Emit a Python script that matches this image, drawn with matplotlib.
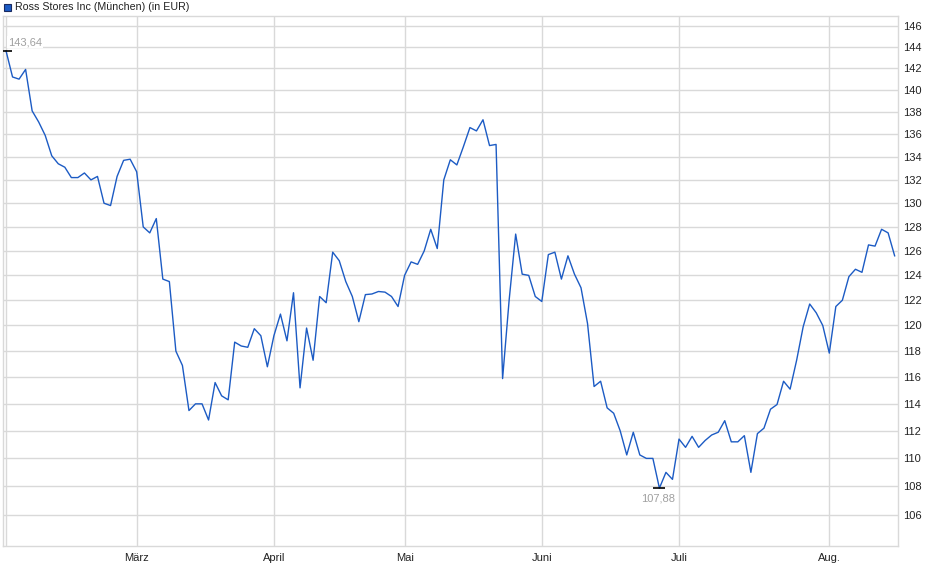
import numpy as np
import matplotlib
matplotlib.use("Agg")
import matplotlib.pyplot as plt
from matplotlib.patches import Rectangle
from matplotlib.ticker import FixedLocator, NullLocator

plt.rcParams['font.family'] = ['Liberation Sans', 'DejaVu Sans']

# Schlusskurse je Handelstag (Index 0 = erster Handelstag im Februar)
prices = [
    143.64, 141.2, 141.0, 141.9, 138.1, 137.1, 135.9, 134.1, 133.4, 133.1,
    132.2, 132.2, 132.6, 132.0, 132.3, 130.0, 129.8, 132.3, 133.7, 133.8,
    132.7, 128.0, 127.5, 128.7, 123.7, 123.5, 118.0, 116.9, 113.5, 114.0,
    114.0, 112.8, 115.6, 114.6, 114.3, 118.7, 118.4, 118.3, 119.75, 119.2,
    116.8, 119.2, 120.9, 118.8, 122.6, 115.2, 119.8, 117.3, 122.3, 121.8,
    125.9, 125.2, 123.5, 122.3, 120.3, 122.45, 122.5, 122.7, 122.65, 122.3,
    121.5, 124.0, 125.1, 124.9, 126.0, 127.8, 126.2, 132.0, 133.75, 133.3,
    134.9, 136.6, 136.3, 137.3, 135.0, 135.1, 115.9, 122.0, 127.4, 124.1,
    124.0, 122.3, 121.9, 125.7, 125.9, 123.7, 125.6, 124.1, 123.0, 120.15,
    115.3, 115.7, 113.7, 113.3, 112.0, 110.25, 111.9, 110.25, 110.0, 110.0,
    107.88, 109.0, 108.5, 111.4, 110.8, 111.6, 110.8, 111.3, 111.7, 111.9,
    112.75, 111.2, 111.2, 111.65, 109.0, 111.8, 112.2, 113.6, 113.95, 115.7,
    115.1, 117.3, 119.9, 121.7, 121.0, 120.0, 117.85, 121.5, 122.0, 123.9,
    124.5, 124.25, 126.5, 126.4, 127.8, 127.5, 125.6,
]

# Monatsanfang als Handelstag-Index
month_pos = [20, 41, 61, 82, 103, 126]
month_labels = ["März", "April", "Mai", "Juni", "Juli", "Aug."]
y_ticks = list(range(106, 147, 2))

x = np.arange(len(prices))
y = np.array(prices)

W, H = 940, 579
fig = plt.figure(figsize=(W / 100, H / 100), dpi=100)
ax = fig.add_axes([3 / W, (H - 546) / H, (898.3 - 3) / W, (546 - 16) / H])

grid_c = '#d9d9d9'
ax.plot(x, y, color='#1c5bc4', lw=1.0, zorder=3)

ax.set_yscale('log')
ax.set_ylim(103.87, 146.95)
ax.set_xlim(-0.46, 136.56)

ax.yaxis.set_major_locator(FixedLocator(y_ticks))
ax.yaxis.set_minor_locator(NullLocator())
ax.set_yticklabels([str(t) for t in y_ticks])
ax.yaxis.tick_right()
ax.tick_params(axis='y', length=0, labelsize=8, labelcolor='#222222', pad=3.5)

ax.set_xticks(month_pos)
ax.set_xticklabels(month_labels)
ax.tick_params(axis='x', length=0, labelsize=8, labelcolor='#222222', pad=5)

ax.grid(True, color=grid_c, lw=1.0, zorder=0)
ax.axvline(0, color=grid_c, lw=1.0, zorder=0)
for s in ax.spines.values():
    s.set_color(grid_c)
    s.set_linewidth(1.0)

# Start- und Tiefstwert markieren
i_min = int(np.argmin(y))
for i, off, va in [(0, (1.5, 2.5), 'bottom'), (i_min, (-1, -4), 'top')]:
    ax.plot([x[i]], [y[i]], marker='_', ms=9, mew=1.2, color='black', zorder=4)
    ax.annotate(f"{y[i]:.2f}".replace('.', ','), (x[i], y[i]), xytext=off,
                textcoords='offset points', ha='left' if i == 0 else 'center', va=va,
                fontsize=8, color='#a0a0a0', zorder=5,
                bbox=dict(boxstyle='square,pad=0.1', fc='white', ec='none'))

# Legende oben links
fig.patches.append(Rectangle((4 / W, (H - 11) / H), 7 / W, 7 / H, transform=fig.transFigure,
                             facecolor='#1c5bc4', edgecolor='#1a2a60', lw=0.8))
fig.text(15 / W, (H - 7) / H, "Ross Stores Inc (München) (in EUR)", fontsize=7.7,
         color='#222222', va='center', ha='left')

fig.savefig('out.png', dpi=100)
